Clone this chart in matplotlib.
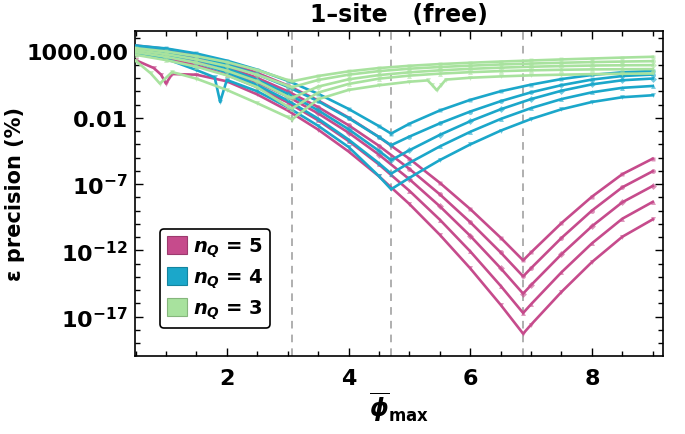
import numpy as np
import matplotlib
matplotlib.use("Agg")
import matplotlib.pyplot as plt
from matplotlib.patches import Patch
from matplotlib.ticker import FixedLocator, FixedFormatter, NullFormatter

plt.rcParams['font.family'] = ['DejaVu Sans']
plt.rcParams['font.weight'] = 'bold'
plt.rcParams['mathtext.fontset'] = 'custom'
plt.rcParams['mathtext.rm'] = 'DejaVu Sans:bold'
plt.rcParams['mathtext.it'] = 'DejaVu Sans:bold:italic'
plt.rcParams['mathtext.bf'] = 'DejaVu Sans:bold'

# log10 of the precision (%)
x_q5 = [0.5, 1.0, 1.5, 2.0, 2.5, 3.0, 3.5, 4.0, 4.5, 5.0, 5.5, 6.0, 6.5, 6.87, 7.0, 7.5, 8.0, 8.5, 9.0]
q5_a = [3.45, 3.20, 2.76, 2.16, 1.38, 0.44, -0.69, -1.98, -3.45, -5.09, -6.90, -8.88, -11.04, -12.75, -12.15, -9.94, -7.95, -6.25, -5.08]
q5_b = [3.20, 2.92, 2.47, 1.83, 1.01, 0.00, -1.19, -2.56, -4.11, -5.85, -7.77, -9.87, -12.15, -13.96, -13.34, -11.06, -9.00, -7.24, -6.03]
q5_c = [3.00, 2.71, 2.23, 1.54, 0.67, -0.40, -1.67, -3.12, -4.78, -6.63, -8.67, -10.90, -13.34, -15.26, -14.62, -12.29, -10.18, -8.37, -7.14]
q5_d = [2.80, 2.48, 1.96, 1.24, 0.30, -0.84, -2.19, -3.75, -5.52, -7.50, -9.68, -12.07, -14.67, -16.72, -16.06, -13.65, -11.47, -9.61, -8.34]
x_q5_e = [0.5, 0.8, 0.92, 1.0, 1.1, 1.5, 2.0, 2.5, 3.0, 3.5, 4.0, 4.5, 5.0, 5.5, 6.0, 6.5, 6.87, 7.0, 7.5, 8.0, 8.5, 9.0]
q5_e = [2.35, 1.75, 1.25, 0.58, 1.30, 1.25, 0.75, -0.24, -1.45, -2.89, -4.54, -6.41, -8.50, -10.82, -13.35, -16.10, -18.28, -17.60, -15.13, -12.88, -10.97, -9.66]

x_q4 = [0.5, 1.0, 1.5, 2.0, 2.5, 3.0, 3.5, 4.0, 4.5, 4.7, 5.0, 5.5, 6.0, 6.5, 7.0, 7.5, 8.0, 8.5, 9.0]
q4_a = [3.45, 3.23, 2.85, 2.31, 1.63, 0.79, -0.19, -1.33, -2.63, -3.19, -2.45, -1.45, -0.65, 0.00, 0.50, 0.92, 1.23, 1.43, 1.53]
q4_b = [3.30, 3.04, 2.62, 2.03, 1.27, 0.34, -0.75, -2.02, -3.45, -4.07, -3.42, -2.42, -1.53, -0.75, -0.08, 0.46, 0.88, 1.15, 1.26]
q4_c = [3.15, 2.87, 2.39, 1.72, 0.86, -0.19, -1.43, -2.86, -4.49, -5.20, -4.45, -3.29, -2.26, -1.36, -0.59, 0.04, 0.52, 0.83, 0.96]
q4_d = [3.00, 2.69, 2.16, 1.42, 0.47, -0.69, -2.06, -3.64, -5.43, -6.21, -5.40, -4.16, -3.06, -2.09, -1.27, -0.59, -0.08, 0.26, 0.40]
x_q4_e = [0.5, 1.0, 1.5, 1.8, 1.89, 2.0, 2.5, 3.0, 3.5, 4.0, 4.5, 4.7, 5.0, 5.5, 6.0, 6.5, 7.0, 7.5, 8.0, 8.5, 9.0]
q4_e = [2.85, 2.45, 1.60, 1.05, -0.80, 0.85, 0.00, -1.20, -2.60, -4.20, -6.40, -7.39, -6.53, -5.19, -4.01, -2.97, -2.09, -1.36, -0.81, -0.45, -0.30]

x_q3 = [0.5, 1.0, 1.5, 2.0, 2.5, 3.0, 3.07, 3.5, 4.0, 4.5, 5.0, 5.5, 6.0, 6.5, 7.0, 7.5, 8.0, 8.5, 9.0]
q3_a = [3.25, 3.0, 2.65, 2.2, 1.6, 0.85, 0.75, 1.15, 1.5, 1.75, 1.92, 2.05, 2.15, 2.24, 2.32, 2.40, 2.47, 2.54, 2.6]
q3_b = [3.1, 2.8, 2.4, 1.9, 1.25, 0.42, 0.3, 0.85, 1.25, 1.52, 1.70, 1.83, 1.93, 2.02, 2.09, 2.15, 2.20, 2.24, 2.27]
q3_c = [2.95, 2.6, 2.15, 1.55, 0.75, -0.4, -0.5, 0.35, 0.9, 1.22, 1.43, 1.58, 1.69, 1.78, 1.85, 1.90, 1.94, 1.96, 1.97]
q3_d = [2.75, 2.35, 1.85, 1.2, 0.3, -1.15, -1.3, -0.1, 0.55, 0.95, 1.18, 1.33, 1.44, 1.52, 1.58, 1.62, 1.65, 1.66, 1.67]
x_q3_e = [0.5, 0.75, 0.9, 1.1, 1.5, 2.0, 2.5, 3.0, 3.07, 3.5, 4.0, 4.5, 5.0, 5.3, 5.38, 5.45, 5.52, 5.6, 6.0, 6.5, 7.0, 7.5, 8.0, 8.5, 9.0]
q3_e = [2.3, 1.35, 0.58, 1.45, 0.95, 0.1, -0.9, -1.95, -2.13, -0.6, 0.1, 0.45, 0.72, 0.82, 0.45, 0.08, 0.45, 0.88, 1.02, 1.12, 1.2, 1.25, 1.29, 1.32, 1.34]

phi_opt = [3.07, 4.70, 6.87]

col5 = '#C64B8C'
col4 = '#1BA7CA'
col3 = '#A8E29E'
markers = ['s', 'o', 'D', '^', 'v']

groups = [
    (col5, [(x_q5, q5_a), (x_q5, q5_b), (x_q5, q5_c), (x_q5, q5_d), (x_q5_e, q5_e)]),
    (col4, [(x_q4, q4_a), (x_q4, q4_b), (x_q4, q4_c), (x_q4, q4_d), (x_q4_e, q4_e)]),
    (col3, [(x_q3, q3_a), (x_q3, q3_b), (x_q3, q3_c), (x_q3, q3_d), (x_q3_e, q3_e)]),
]

fig = plt.figure(figsize=(6.85, 4.35), dpi=100)
ax = fig.add_axes([0.197, 0.180, 0.771, 0.746])

for xv in phi_opt:
    ax.axvline(xv, color='#9a9a9a', ls=(0, (5, 4)), lw=1.1, zorder=1)

z = 2
for col, curves in groups:
    for i, (xs, ys) in enumerate(curves):
        vals = 10.0 ** np.array(ys)
        ax.plot(xs, vals, color=col, lw=1.9, zorder=z)
        ax.plot(xs, vals, ls='none', marker=markers[i], ms=3.5, color=col,
                alpha=0.6, mec='none', zorder=z)
    z += 1

ax.set_yscale('log')
ax.set_xlim(0.49, 9.17)
ax.set_ylim(10 ** -19.94, 10 ** 4.53)

ax.xaxis.set_major_locator(FixedLocator([2, 4, 6, 8]))
ax.xaxis.set_minor_locator(FixedLocator(np.arange(0.5, 9.01, 0.5)))
ax.yaxis.set_major_locator(FixedLocator([1e3, 1e-2, 1e-7, 1e-12, 1e-17]))
ax.yaxis.set_major_formatter(FixedFormatter(['1000.00', '0.01', r'$10^{-7}$', r'$10^{-12}$', r'$10^{-17}$']))
ax.yaxis.set_minor_locator(FixedLocator([10.0 ** k for k in range(-19, 5)]))
ax.yaxis.set_minor_formatter(NullFormatter())

ax.tick_params(which='both', direction='in', top=True, right=True, width=1.0, labelsize=16)
ax.tick_params(which='major', length=6, pad=5)
ax.tick_params(axis='x', which='major', pad=9)
ax.tick_params(which='minor', length=3.5)
for sp in ax.spines.values():
    sp.set_linewidth(1.2)

ax.set_title('1\u2013site   (free)', fontsize=17, fontweight='bold', pad=7)
ax.set_ylabel('\u03b5 precision (%)', fontsize=15, fontweight='bold')
ax.yaxis.set_label_coords(-0.208, 0.5)
ax.set_xlabel(r'$\overline{\phi}_{\mathbf{max}}$', fontsize=17)
ax.xaxis.set_label_coords(0.5, -0.105)

handles = [Patch(facecolor=col5, edgecolor='#9c3a6e', lw=0.8),
           Patch(facecolor=col4, edgecolor='#14849f', lw=0.8),
           Patch(facecolor=col3, edgecolor='#85b67c', lw=0.8)]
labels = [r'$n_Q$ = 5', r'$n_Q$ = 4', r'$n_Q$ = 3']
leg = ax.legend(handles, labels, loc='lower left', bbox_to_anchor=(0.047, 0.085),
                borderaxespad=0, fontsize=14, handlelength=1.05, handleheight=1.05,
                handletextpad=0.3, labelspacing=0.4, borderpad=0.35, fancybox=True,
                framealpha=1, edgecolor='black')
leg.get_frame().set_linewidth(1.2)

fig.savefig('out.png', dpi=100)
